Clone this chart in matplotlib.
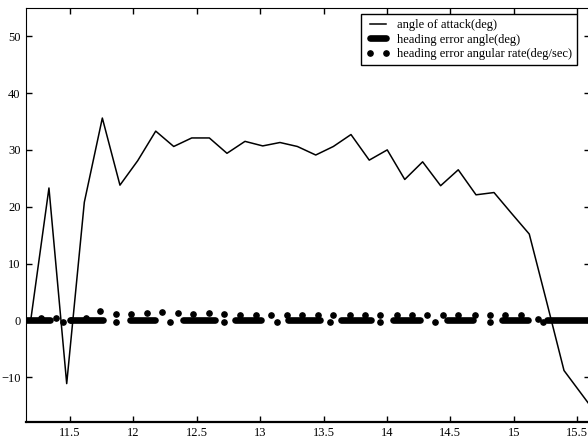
import numpy as np
import matplotlib
matplotlib.use("Agg")
import matplotlib.pyplot as plt

# angle of attack (deg)
aoa_t = [11.19, 11.334, 11.474, 11.613, 11.755, 11.894, 12.034, 12.176, 12.318,
         12.460, 12.599, 12.738, 12.880, 13.02, 13.156, 13.293, 13.438, 13.577,
         13.716, 13.86, 14.002, 14.14, 14.281, 14.423, 14.562, 14.702, 14.844,
         14.98, 15.122, 15.26, 15.396, 15.59]
aoa_v = [0.0, 23.3, -11.1, 20.8, 35.6, 23.8, 28.1, 33.3, 30.6, 32.1, 32.1, 29.4,
         31.5, 30.7, 31.3, 30.6, 29.1, 30.6, 32.7, 28.2, 30.0, 24.8, 27.9, 23.7,
         26.5, 22.1, 22.5, 18.9, 15.2, 3.2, -8.8, -14.6]

# heading error angle (deg): visible thick segments at zero
head_start = [11.10, 11.50, 11.97, 12.39, 12.80, 13.22, 13.64, 14.05, 14.47, 14.91, 15.26]
head_end = [11.34, 11.76, 12.17, 12.64, 13.01, 13.47, 13.87, 14.26, 14.68, 15.11, 15.62]

# heading error angular rate (deg/sec)
rate_t = [11.269, 11.390, 11.447, 11.505, 11.626, 11.737, 11.863, 11.863, 11.981,
          12.105, 12.228, 12.289, 12.349, 12.468, 12.596, 12.717, 12.717, 12.841,
          12.965, 13.085, 13.130, 13.209, 13.330, 13.458, 13.550, 13.576, 13.708,
          13.826, 13.945, 13.945, 14.076, 14.195, 14.315, 14.378, 14.442, 14.562,
          14.694, 14.812, 14.812, 14.930, 15.060, 15.193, 15.233]
rate_v = [0.5, 0.5, -0.2, 0.0, 0.5, 1.75, 1.2, -0.2, 1.2,
          1.3, 1.5, -0.2, 1.3, 1.2, 1.3, 1.1, -0.2, 1.05,
          1.0, 1.0, -0.2, 1.0, 1.0, 1.0, -0.3, 0.9, 1.0,
          1.0, 1.0, -0.3, 1.0, 1.0, 1.0, -0.3, 0.9, 1.0,
          1.0, 1.0, -0.3, 0.9, 0.9, 0.3, -0.3]

x_ticks = [11.5, 12, 12.5, 13, 13.5, 14, 14.5, 15, 15.5]
x_labels = ["11.5", "12", "12.5", "13", "13.5", "14", "14.5", "15", "15.5"]
y_ticks = [-10, 0, 10, 20, 30, 40, 50]

plt.rcParams["font.family"] = ["Liberation Serif", "DejaVu Serif"]

fig = plt.figure(figsize=(5.88, 4.41), dpi=100)
ax = fig.add_axes([26 / 588, 19.3 / 441, 564 / 588, 413.4 / 441])

ax.plot(aoa_t, aoa_v, color="black", lw=1.1, label="angle of attack(deg)", zorder=3)
for i, (s, e) in enumerate(zip(head_start, head_end)):
    ax.plot([s, e], [0, 0], color="black", lw=4.8, solid_capstyle="round",
            label="heading error angle(deg)" if i == 0 else None, zorder=2)
ax.plot(rate_t, rate_v, ls="none", marker="o", ms=3.8, color="black",
        label="heading error angular rate(deg/sec)", zorder=2)

ax.set_xlim(11.153, 15.601)
ax.set_ylim(-17.8, 54.9)
ax.set_xticks(x_ticks)
ax.set_xticklabels(x_labels)
ax.set_yticks(y_ticks)
ax.tick_params(direction="in", length=4, width=1, labelsize=9, pad=4,
               top=True, right=True)

for side in ["left", "top", "right"]:
    ax.spines[side].set_linewidth(0.8)
ax.spines["bottom"].set_linewidth(1.6)

leg = ax.legend(loc="upper right", bbox_to_anchor=(577 / 588, 1 - 14 / 441),
                bbox_transform=fig.transFigure, borderaxespad=0, fontsize=9,
                numpoints=2, handlelength=1.9, handletextpad=0.6,
                labelspacing=0.2, borderpad=0.4, fancybox=False,
                framealpha=1, edgecolor="black")
leg.get_frame().set_linewidth(1.0)

fig.savefig("out.png", dpi=100)
